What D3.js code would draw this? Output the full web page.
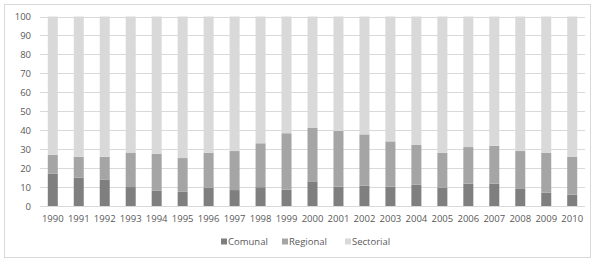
<!DOCTYPE html>
<html>
<head>
<meta charset="utf-8">
<script src="https://cdn.jsdelivr.net/npm/d3@7"></script>
<style>
  body { margin: 0; background: #fff; }
  text { font-family: "Open Sans", sans-serif; fill: #595959; }
</style>
</head>
<body>
<div id="container"></div>
<script>
/* DATA */
const years = ["1990","1991","1992","1993","1994","1995","1996","1997","1998","1999","2000",
               "2001","2002","2003","2004","2005","2006","2007","2008","2009","2010"]
const comunal  = [17, 15, 14, 10, 8, 7.5, 9.7, 8.4, 9.9, 8.6, 13, 10.2, 10.7, 10.2, 11.3, 9.7, 11.8, 11.8, 9, 7, 6]
const regional = [10, 11, 12, 18.2, 19.6, 17.8, 18.4, 20.6, 23.2, 29.8, 28.2, 29.4, 27.1, 23.9, 20.9, 18.3, 19.3, 20, 20, 21, 19.9]
const sectorial = [73, 74, 74, 71.8, 72.4, 74.7, 71.9, 71, 66.9, 61.6, 58.8, 60.4, 62.2, 65.9, 67.8, 72, 68.9, 68.2, 71, 72, 74.1]
const yTicks = [0, 10, 20, 30, 40, 50, 60, 70, 80, 90, 100]
const seriesNames = ["Comunal", "Regional", "Sectorial"]
const colors = ["#7f7f7f", "#a5a5a5", "#d9d9d9"]

/* CONSTANTS */
const width = 604
const height = 265
const margin = { top: 16.5, bottom: 59, left: 40, right: 19 }

const data = years.map((y, i) => ({
  year: y, Comunal: comunal[i], Regional: regional[i], Sectorial: sectorial[i]
}))
const stacked = d3.stack().keys(seriesNames)(data)

/* SCALES */
const xScale = d3.scaleBand()
  .domain(years)
  .range([margin.left, width - margin.right])
  .paddingInner(0.615)
  .paddingOuter(0.3)

const yScale = d3.scaleLinear()
  .domain([0, 100])
  .range([height - margin.bottom, margin.top])

const color = d3.scaleOrdinal().domain(seriesNames).range(colors)

/* SVG */
const svg = d3.select("#container")
  .append("svg")
  .attr("width", width)
  .attr("height", height)

// outer frame
svg.append("rect")
  .attr("x", 4.5).attr("y", 4.5)
  .attr("width", 586).attr("height", 253)
  .attr("fill", "none")
  .attr("stroke", "#d9d9d9")

// gridlines
svg.append("g")
  .selectAll("line")
  .data(yTicks)
  .join("line")
  .attr("x1", margin.left)
  .attr("x2", width - margin.right)
  .attr("y1", d => Math.round(yScale(d)) + 0.5)
  .attr("y2", d => Math.round(yScale(d)) + 0.5)
  .attr("stroke", "#d9d9d9")

// y axis labels
const yAxis = d3.axisLeft(yScale).tickValues(yTicks).tickSize(0).tickPadding(9)
svg.append("g")
  .attr("transform", `translate(${margin.left},0)`)
  .call(yAxis)
  .call(g => g.select(".domain").remove())
  .selectAll("text")
  .attr("font-size", 9.5)
  .attr("font-family", "Open Sans, sans-serif")
  .attr("fill", "#595959")

// x axis labels
const xAxis = d3.axisBottom(xScale).tickSize(0).tickPadding(9)
svg.append("g")
  .attr("transform", `translate(0,${height - margin.bottom})`)
  .call(xAxis)
  .call(g => g.select(".domain").remove())
  .selectAll("text")
  .attr("font-size", 9.5)
  .attr("font-family", "Open Sans, sans-serif")
  .attr("fill", "#595959")

// bars
svg.append("g")
  .selectAll("g")
  .data(stacked)
  .join("g")
  .attr("fill", d => color(d.key))
  .selectAll("rect")
  .data(d => d)
  .join("rect")
  .attr("x", d => xScale(d.data.year))
  .attr("width", xScale.bandwidth())
  .attr("y", d => yScale(d[1]))
  .attr("height", d => yScale(d[0]) - yScale(d[1]))

// legend
const legendX = [221, 282, 345]
const legend = svg.append("g")
  .selectAll("g")
  .data(seriesNames)
  .join("g")
  .attr("transform", (d, i) => `translate(${legendX[i]},241.5)`)

legend.append("rect")
  .attr("x", 0).attr("y", -3)
  .attr("width", 6).attr("height", 6)
  .attr("fill", d => color(d))

legend.append("text")
  .attr("x", 7)
  .attr("dy", "0.35em")
  .attr("font-size", 9.5)
  .text(d => d)
</script>
</body>
</html>
